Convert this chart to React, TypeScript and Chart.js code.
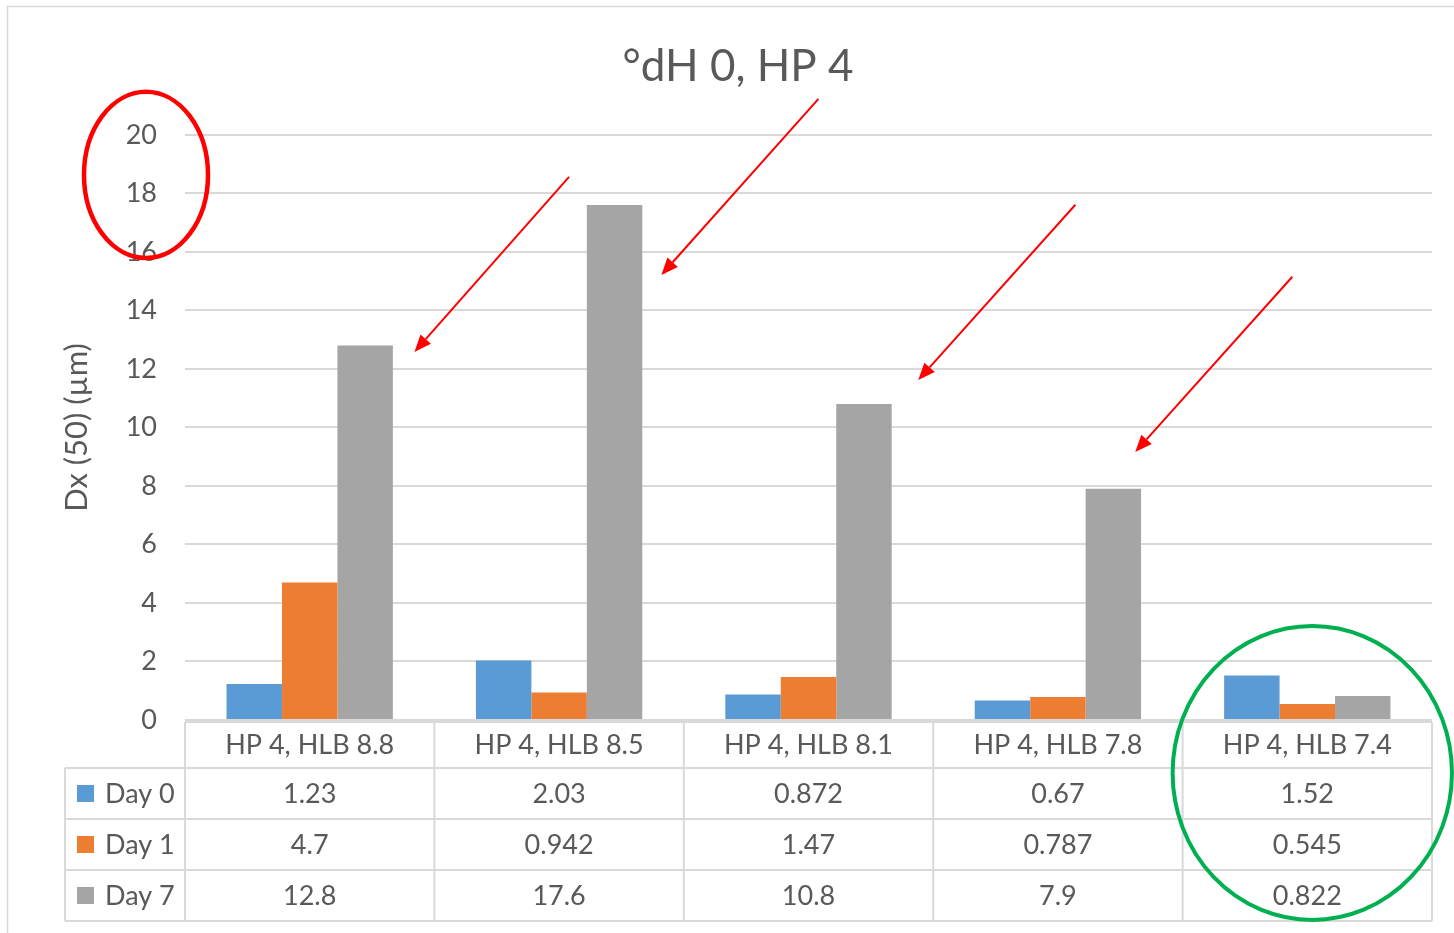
import React, { useEffect, useRef } from 'react';
import { Chart, registerables } from 'chart.js';

Chart.register(...registerables);

// ---------- data ----------
const chartTitle = '°dH 0, HP 4';
const yAxisTitle = 'Dx (50) (µm)';
const categories = ['HP 4, HLB 8.8', 'HP 4, HLB 8.5', 'HP 4, HLB 8.1', 'HP 4, HLB 7.8', 'HP 4, HLB 7.4'];
const seriesNames = ['Day 0', 'Day 1', 'Day 7'];
const day0 = [1.23, 2.03, 0.872, 0.67, 1.52];
const day1 = [4.7, 0.942, 1.47, 0.787, 0.545];
const day7 = [12.8, 17.6, 10.8, 7.9, 0.822];
const seriesColors = ['#5B9BD5', '#ED7D31', '#A5A5A5'];
const yMin = 0;
const yMax = 20;
const yStep = 2;

// annotation arrows in data units: [tailIndex, tailValue, tipIndex, tipValue]
const arrowTailIndex = [1.04, 2.04, 3.07, 3.94];
const arrowTailValue = [18.56, 21.23, 17.61, 15.15];
const arrowTipIndex = [0.42, 1.41, 2.44, 3.31];
const arrowTipValue = [12.58, 15.21, 11.62, 9.16];

// ---------- style ----------
const FONT = 'Lato, "Noto Sans", sans-serif';
const TEXT = '#595959';
const GRID = '#D9D9D9';

const overlayPlugin = {
  id: 'overlay',
  beforeDraw(chart: any) {
    const ctx = chart.ctx;
    ctx.save();
    ctx.fillStyle = '#FFFFFF';
    ctx.fillRect(0, 0, chart.width, chart.height);
    ctx.strokeStyle = GRID;
    ctx.lineWidth = 1.5;
    ctx.strokeRect(7.5, 6.5, chart.width + 40, chart.height + 40);
    ctx.restore();
  },
  afterDraw(chart: any) {
    const ctx = chart.ctx;
    const area = chart.chartArea;
    const xs = chart.scales.x;
    const ys = chart.scales.y;
    const n = categories.length;
    const colW = (area.right - area.left) / n;
    const headerTop = area.bottom + 2;
    const headerBottom = area.bottom + 48;
    const rowH = 51;
    const tableBottom = headerBottom + rowH * seriesNames.length;
    const labelLeft = area.left - 120;

    ctx.save();
    ctx.strokeStyle = GRID;
    ctx.lineWidth = 2;
    const line = (x1: number, y1: number, x2: number, y2: number) => {
      ctx.beginPath();
      ctx.moveTo(x1, y1);
      ctx.lineTo(x2, y2);
      ctx.stroke();
    };
    line(area.left, headerTop, area.right, headerTop);
    for (let r = 0; r <= seriesNames.length; r++) {
      const yy = headerBottom + r * rowH;
      line(labelLeft, yy, area.right, yy);
    }
    for (let k = 0; k <= n; k++) {
      const xx = area.left + k * colW;
      line(xx, headerTop, xx, tableBottom);
    }
    line(labelLeft, headerBottom, labelLeft, tableBottom);

    ctx.fillStyle = TEXT;
    ctx.font = `27px ${FONT}`;
    ctx.textAlign = 'center';
    ctx.textBaseline = 'middle';
    const series = [day0, day1, day7];
    categories.forEach((c, i) => {
      const cx = xs.getPixelForValue(i);
      ctx.fillText(c, cx, (headerTop + headerBottom) / 2);
      series.forEach((s, r) => {
        ctx.fillText(String(s[i]), cx, headerBottom + rowH * (r + 0.5) + 1);
      });
    });
    ctx.textAlign = 'left';
    seriesNames.forEach((name, r) => {
      const cy = headerBottom + rowH * (r + 0.5);
      ctx.fillStyle = seriesColors[r];
      ctx.fillRect(labelLeft + 12, cy - 8.5, 17, 17);
      ctx.fillStyle = TEXT;
      ctx.fillText(name, labelLeft + 40, cy + 1);
    });

    // red arrows
    ctx.strokeStyle = '#FF0000';
    ctx.fillStyle = '#FF0000';
    ctx.lineWidth = 2;
    for (let a = 0; a < arrowTailIndex.length; a++) {
      const x1 = xs.getPixelForValue(0) + arrowTailIndex[a] * colW;
      const y1 = ys.getPixelForValue(arrowTailValue[a]);
      const x2 = xs.getPixelForValue(0) + arrowTipIndex[a] * colW;
      const y2 = ys.getPixelForValue(arrowTipValue[a]);
      const ang = Math.atan2(y2 - y1, x2 - x1);
      const hl = 17;
      const hw = 7;
      const bx = x2 - hl * Math.cos(ang);
      const by = y2 - hl * Math.sin(ang);
      line(x1, y1, bx, by);
      ctx.beginPath();
      ctx.moveTo(x2, y2);
      ctx.lineTo(bx + hw * Math.sin(ang), by - hw * Math.cos(ang));
      ctx.lineTo(bx - hw * Math.sin(ang), by + hw * Math.cos(ang));
      ctx.closePath();
      ctx.fill();
    }

    // red ellipse around top y ticks
    ctx.strokeStyle = '#FF0000';
    ctx.lineWidth = 4.5;
    ctx.beginPath();
    const ry1 = ys.getPixelForValue(0) - ys.getPixelForValue(2.84);
    ctx.ellipse(area.left - 39, ys.getPixelForValue(18.63), 62, ry1, 0, 0, Math.PI * 2);
    ctx.stroke();

    // green ellipse around last category
    ctx.strokeStyle = '#00B050';
    ctx.lineWidth = 4;
    ctx.beginPath();
    const gx = xs.getPixelForValue(n - 1) + 0.02 * colW;
    ctx.ellipse(gx, area.bottom + 53, 0.56 * colW, 147, 0, 0, Math.PI * 2);
    ctx.stroke();
    ctx.restore();
  },
};

export default function App() {
  const ref = useRef<HTMLCanvasElement | null>(null);
  useEffect(() => {
    if (!ref.current) return;
    const chart = new Chart(ref.current, {
      type: 'bar',
      data: {
        labels: categories,
        datasets: [day0, day1, day7].map((d, i) => ({
          label: seriesNames[i],
          data: d,
          backgroundColor: seriesColors[i],
          borderWidth: 0,
          categoryPercentage: 0.667,
          barPercentage: 1,
        })),
      },
      options: {
        animation: false,
        responsive: false,
        layout: { padding: { left: 44, right: 22, top: 0, bottom: 213 } },
        plugins: {
          legend: { display: false },
          tooltip: { enabled: false },
          title: {
            display: true,
            text: chartTitle,
            color: TEXT,
            font: { family: FONT, size: 44, weight: 'normal' },
            padding: { top: 40, bottom: 42 },
          },
        },
        scales: {
          x: { display: false },
          y: {
            min: yMin,
            max: yMax,
            ticks: { stepSize: yStep, color: TEXT, font: { family: FONT, size: 27 }, padding: 28 },
            grid: { color: GRID, lineWidth: 2, drawTicks: false },
            border: { display: false },
            title: {
              display: true,
              text: yAxisTitle,
              color: TEXT,
              font: { family: FONT, size: 31 },
              padding: { top: 14, bottom: 0 },
            },
            afterFit: (s: any) => {
              s.width = 141;
            },
          },
        },
      },
      plugins: [overlayPlugin],
    } as any);
    return () => chart.destroy();
  }, []);
  return (
    <div style={{ position: 'fixed', left: 0, top: 0, width: 1454, height: 933 }}>
      <canvas ref={ref} width={1454} height={933} />
    </div>
  );
}
